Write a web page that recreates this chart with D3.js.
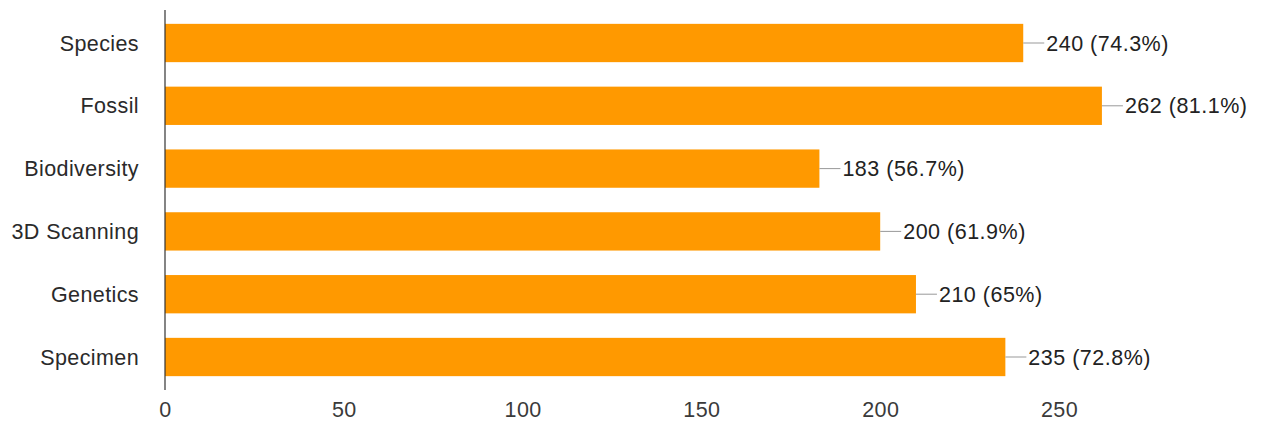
<!DOCTYPE html>
<html>
<head>
<meta charset="utf-8">
<script src="https://cdn.jsdelivr.net/npm/d3@7"></script>
<style>
  html, body { margin: 0; padding: 0; background: #fff; }
  svg { display: block; font-family: "Liberation Sans", Arial, Helvetica, sans-serif; }
</style>
</head>
<body>
<svg id="chart" width="1269" height="429"></svg>
<script>
// Survey responses per topic
const categories = ["Species", "Fossil", "Biodiversity", "3D Scanning", "Genetics", "Specimen"];
const counts = [240, 262, 183, 200, 210, 235];
const percentLabels = ["74.3%", "81.1%", "56.7%", "61.9%", "65%", "72.8%"];
const tickValues = [0, 50, 100, 150, 200, 250];

const svg = d3.select("#chart");

const x = d3.scaleLinear().domain([0, 250]).range([165, 1059]);
const y = d3.scaleBand()
  .domain(categories)
  .range([11.6, 388.4])
  .paddingInner(0.39)
  .paddingOuter(0.195);

const rows = categories.map((c, i) => ({ cat: c, value: counts[i], pct: percentLabels[i] }));

// Bars
svg.append("g")
  .selectAll("rect")
  .data(rows)
  .join("rect")
  .attr("x", x(0))
  .attr("y", d => y(d.cat))
  .attr("width", d => x(d.value) - x(0))
  .attr("height", y.bandwidth())
  .attr("fill", "#ff9900");

// Vertical baseline axis
svg.append("line")
  .attr("x1", x(0)).attr("x2", x(0))
  .attr("y1", 10).attr("y2", 390)
  .attr("stroke", "#333")
  .attr("stroke-width", 1.2);

// Category labels
svg.append("g")
  .selectAll("text")
  .data(rows)
  .join("text")
  .attr("x", x(0) - 26)
  .attr("y", d => y(d.cat) + y.bandwidth() / 2)
  .attr("dy", "0.35em")
  .attr("text-anchor", "end")
  .attr("font-size", 21.5)
  .attr("letter-spacing", 0.4)
  .attr("fill", "#2a2a2a")
  .text(d => d.cat);

// Leader lines and value labels
const ann = svg.append("g");
ann.selectAll("line")
  .data(rows)
  .join("line")
  .attr("x1", d => x(d.value))
  .attr("x2", d => x(d.value) + 21)
  .attr("y1", d => y(d.cat) + y.bandwidth() / 2)
  .attr("y2", d => y(d.cat) + y.bandwidth() / 2)
  .attr("stroke", "#999")
  .attr("stroke-width", 1);

ann.selectAll("text")
  .data(rows)
  .join("text")
  .attr("x", d => x(d.value) + 23)
  .attr("y", d => y(d.cat) + y.bandwidth() / 2)
  .attr("dy", "0.35em")
  .attr("font-size", 21.5)
  .attr("letter-spacing", 0.5)
  .attr("fill", "#222")
  .text(d => `${d.value} (${d.pct})`);

// Bottom axis tick labels
const xAxis = d3.axisBottom(x).tickValues(tickValues).tickSize(0).tickPadding(0);
const gx = svg.append("g")
  .attr("transform", "translate(0,403)")
  .call(xAxis);
gx.select(".domain").remove();
gx.selectAll("text")
  .attr("font-family", "Liberation Sans, Arial, sans-serif")
  .attr("font-size", 21.5)
  .attr("letter-spacing", 0.4)
  .attr("fill", "#3a3a3a")
  .attr("dy", "0.65em");
</script>
</body>
</html>
